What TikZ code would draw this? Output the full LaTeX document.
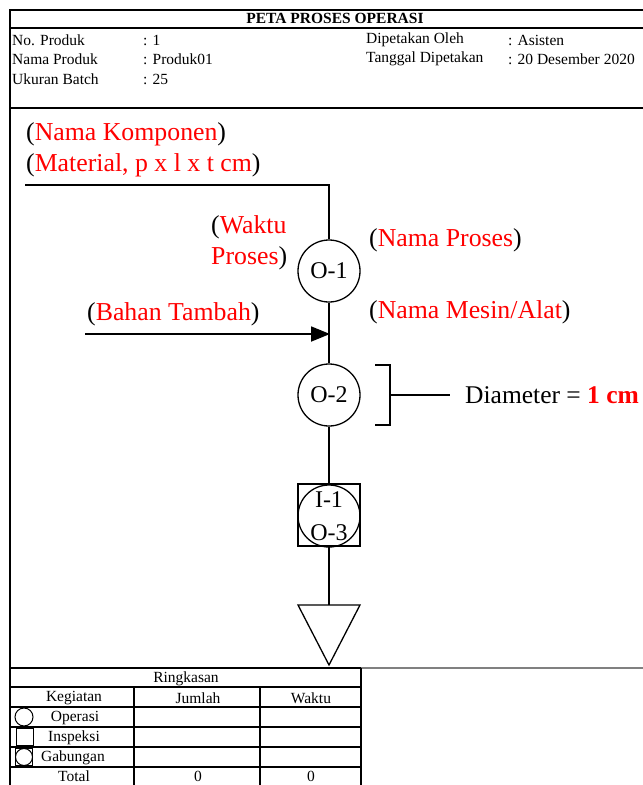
\documentclass[tikz,border=0pt]{standalone}
\usepackage{fontspec}
\setmainfont{Liberation Serif}
\usetikzlibrary{arrows.meta}

% label in red with black parentheses
\newcommand{\redlab}[1]{(\textcolor{red}{#1})}

\begin{document}
\begin{tikzpicture}[x=1pt,y=-1pt,
  frame/.style={line width=2pt},
  grid/.style={line width=1.6pt},
  flow/.style={line width=1.3pt},
  hdr/.style={font=\fontsize{15.5}{18}\selectfont, inner sep=0pt},
  big/.style={font=\fontsize{25.8}{30}\selectfont, inner sep=0pt, align=left},
  opsym/.style={draw, circle, line width=1.3pt, minimum size=62pt, inner sep=0pt,
    font=\fontsize{24}{28}\selectfont},
  boxsym/.style={draw, rectangle, line width=1.3pt, minimum size=62pt, inner sep=0pt},
]
\useasboundingbox (0,0) rectangle (643,785);

% ---- outer frame and header ----
\draw[frame] (10,785) -- (10,10) -- (643,10);
\draw[line width=1.2pt] (10,28) -- (643,28);
\draw[frame] (10,108) -- (643,108);

\node[hdr, font=\fontsize{15.5}{18}\selectfont\bfseries] (title) at (335,18) {PETA PROSES OPERASI};
\node[hdr, anchor=west] (h1) at (12,40) {No. Produk};
\node[hdr, anchor=west] (v1) at (143,40) {: 1};
\node[hdr, anchor=west] (h2) at (12,59) {Nama Produk};
\node[hdr, anchor=west] (v2) at (143,59) {: Produk01};
\node[hdr, anchor=west] (h3) at (12,79) {Ukuran Batch};
\node[hdr, anchor=west] (v3) at (143,79) {: 25};
\node[hdr, anchor=west] (h4) at (366,40) {Dipetakan Oleh};
\node[hdr, anchor=west] (v4) at (508,40) {: Asisten};
\node[hdr, anchor=west] (h5) at (366,59) {Tanggal Dipetakan};
\node[hdr, anchor=west] (v5) at (508,59) {: 20 Desember 2020};

% ---- labels ----
\node[big, anchor=west] (komp) at (26,134) {\redlab{Nama Komponen}};
\node[big, anchor=west] (mat) at (26,165) {\redlab{Material, p x l x t cm}};
\node[big, anchor=west] (wk1) at (211,227) {(\textcolor{red}{Waktu}};
\node[big, anchor=west] (wk2) at (211,258) {\textcolor{red}{Proses})};
\node[big, anchor=west] (nproses) at (369,240) {\redlab{Nama Proses}};
\node[big, anchor=west] (bahan) at (87,314) {\redlab{Bahan Tambah}};
\node[big, anchor=west] (mesin) at (369,312) {\redlab{Nama Mesin/Alat}};
\node[font=\fontsize{25.5}{30}\selectfont, inner sep=0pt, anchor=west] (diam) at (465,395) {Diameter = \textbf{\textcolor{red}{1 cm}}};

% ---- process symbols ----
\node[opsym] (o1) at (329,271) {O-1};
\node[opsym] (o2) at (329,395) {O-2};
\node[boxsym] (ib) at (329,515) {};
\node[opsym, align=center, font=\fontsize{24}{33}\selectfont] (io) at (329,516) {I-1\\O-3};
\coordinate (tri) at (329,605);
\draw[flow] (298,605) -- (360,605) -- (329,665) -- cycle;

% ---- flow lines ----
\coordinate (start) at (25,185);
\coordinate (corner) at (329,185);
\coordinate (join) at (329,334);
\coordinate (feed) at (85,334);
\coordinate (feedthick) at (135,334);
\draw[flow] (start) -- (corner) -- (o1.north);
\draw[flow] (o1.south) -- (o2.north);
\draw[flow] (o2.south) -- (ib.north);
\draw[flow] (ib.south) -- (tri);
\draw[flow] (feed) -- (join);
\draw[line width=1.8pt, -{Triangle[length=19pt,width=15pt]}, shorten >=-1pt] (feedthick) -- (join);

% diameter bracket
\coordinate (bt) at (375,365);
\coordinate (bb) at (375,425);
\coordinate (bm) at (390,395);
\coordinate (bend) at (450,395);
\draw[flow] (bt) -- (390,365) -- (390,425) -- (bb);
\draw[flow] (bm) -- (bend);

% ---- summary table ----
\draw[gray, line width=1.5pt] (361,668) -- (643,668);
\draw[grid] (10,668) -- (361,668);
\foreach \y in {687,707,727,747,767} \draw[grid] (10,\y) -- (361,\y);
\draw[grid] (134,687) -- (134,785);
\draw[grid] (260,687) -- (260,785);
\draw[grid] (361,668) -- (361,785);

\node[hdr] (ring) at (186,679) {Ringkasan};
\node[hdr] (keg) at (74,698) {Kegiatan};
\node[hdr] (jum) at (198,698) {Jumlah};
\node[hdr] (wak) at (311,698) {Waktu};
\node[hdr] (ope) at (75,718) {Operasi};
\node[hdr] (ins) at (74,738) {Inspeksi};
\node[hdr] (gab) at (73,758) {Gabungan};
\node[hdr] (tot) at (74,776.5) {Total};
\node[hdr] (tj) at (198,776.5) {0};
\node[hdr] (tw) at (311,776.5) {0};

\node[draw, circle, line width=1pt, minimum size=18pt, inner sep=0pt] (symo) at (24,717) {};
\node[draw, rectangle, line width=1pt, minimum size=17pt, inner sep=0pt] (symi) at (25,737) {};
\node[draw, rectangle, line width=1pt, minimum size=17pt, inner sep=0pt] (symg) at (24,757) {};
\node[draw, circle, line width=1pt, minimum size=17pt, inner sep=0pt] (symgc) at (24,757) {};
\end{tikzpicture}
\end{document}
